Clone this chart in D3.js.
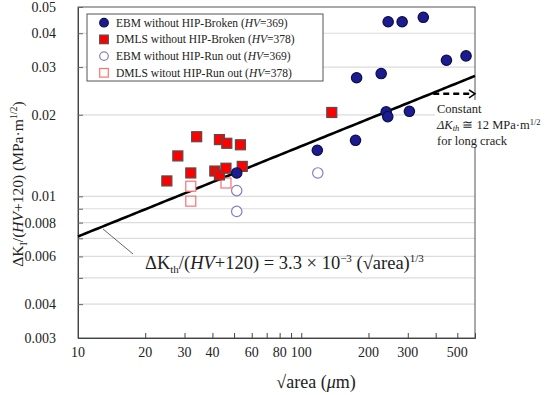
<!DOCTYPE html>
<html>
<head>
<meta charset="utf-8">
<script src="https://cdn.jsdelivr.net/npm/d3@7"></script>
<style>
  body { margin: 0; background: #fff; }
  text { font-family: "Liberation Serif", "Times New Roman", serif; fill: #222; }
</style>
</head>
<body>
<svg id="chart" width="550" height="395"></svg>
<script>
// data: [sqrt(area) um, dK/(HV+120)]
const ebmBroken = [[51.4, 0.0122], [118, 0.0148], [175, 0.0161], [177, 0.0274], [228, 0.0284],
  [240, 0.0205], [244, 0.0197], [245, 0.0441], [283, 0.0441], [352, 0.0458], [305, 0.0206],
  [447, 0.0318], [547, 0.033]];
const dmlsBroken = [[25, 0.0114], [28, 0.0141], [32, 0.0122], [34, 0.0166], [41, 0.0124],
  [43, 0.0120], [43, 0.0162], [46, 0.0127], [46.4, 0.0157], [53.4, 0.0155], [54.4, 0.0129],
  [137, 0.0204]];
const ebmRunout = [[51.4, 0.0105], [51.4, 0.0088], [118.6, 0.0122]];
const dmlsRunout = [[32, 0.0109], [32, 0.0096], [46, 0.0112]];
const xTickLabels = [10, 20, 30, 40, 60, 80, 100, 200, 300, 500];
const xTickMarks = [20, 30, 40, 50, 60, 70, 80, 90, 100, 200, 300, 400, 500];
const yTickLabels = [0.003, 0.004, 0.006, 0.008, 0.01, 0.02, 0.03, 0.04, 0.05];
const yGrid = [0.004, 0.005, 0.006, 0.007, 0.008, 0.009, 0.01, 0.02, 0.03, 0.04];
const fitCoef = 3.3e-3, fitExp = 1 / 3;
const longCrackFrom = 390, longCrackTo = 600;

const svg = d3.select('#chart');
const plot = { left: 78, right: 475, top: 7, bottom: 338 };

const x = d3.scaleLog().domain([10, 600]).range([plot.left, plot.right]);
const y = d3.scaleLog().domain([0.003, 0.05]).range([plot.bottom, plot.top]);

// grid
svg.append('g').selectAll('line').data(yGrid).join('line')
  .attr('x1', plot.left).attr('x2', plot.right)
  .attr('y1', d => y(d)).attr('y2', d => y(d))
  .attr('stroke', '#dcdcdc').attr('stroke-width', 1.2);

// frame
svg.append('rect')
  .attr('x', plot.left).attr('y', plot.top)
  .attr('width', plot.right - plot.left).attr('height', plot.bottom - plot.top)
  .attr('fill', 'none').attr('stroke', '#555').attr('stroke-width', 1);

// y axis: short inner ticks + labels
const yAxis = d3.axisLeft(y).tickValues(yGrid.concat([0.003, 0.05])).tickSize(-5).tickFormat('');
svg.append('g').attr('transform', `translate(${plot.left},0)`).call(yAxis)
  .call(g => g.select('.domain').attr('stroke', '#444'))
  .call(g => g.selectAll('.tick line').attr('stroke', '#666'));
svg.append('g').selectAll('text').data(yTickLabels).join('text')
  .attr('x', 56).attr('y', d => y(d)).attr('dy', '0.35em')
  .attr('text-anchor', 'end').attr('font-size', 14)
  .text(d => d);

// x axis
const xAxis = d3.axisBottom(x).tickValues(xTickMarks).tickSize(-5).tickFormat('');
svg.append('g').attr('transform', `translate(0,${plot.bottom})`).call(xAxis)
  .call(g => g.select('.domain').attr('stroke', '#444'))
  .call(g => g.selectAll('.tick line').attr('stroke', '#444'));
svg.append('g').selectAll('text').data(xTickLabels).join('text')
  .attr('x', d => x(d)).attr('y', 357)
  .attr('text-anchor', 'middle').attr('font-size', 14)
  .text(d => d);

// axis titles
const xt = svg.append('text').attr('x', 316).attr('y', 388)
  .attr('text-anchor', 'middle').attr('font-size', 18);
xt.append('tspan').text('√area  (');
xt.append('tspan').attr('font-style', 'italic').text('μ');
xt.append('tspan').text('m)');

const yt = svg.append('text')
  .attr('transform', 'translate(23,184) rotate(-90)')
  .attr('text-anchor', 'middle').attr('font-size', 15.5);
yt.append('tspan').text('ΔK');
yt.append('tspan').attr('font-size', 10).attr('dy', 4).text('I');
yt.append('tspan').attr('dy', -4).text('/(');
yt.append('tspan').attr('font-style', 'italic').text('HV');
yt.append('tspan').text('+120)  (MPa·m');
yt.append('tspan').attr('font-size', 10).attr('dy', -6).text('1/2');
yt.append('tspan').attr('dy', 6).text(')');

// fit line
const fitX = d3.range(0, 101).map(i => 10 * Math.pow(60, i / 100));
svg.append('path')
  .datum(fitX)
  .attr('d', d3.line().x(d => x(d)).y(d => y(fitCoef * Math.pow(d, fitExp))))
  .attr('fill', 'none').attr('stroke', '#000').attr('stroke-width', 2.6);

// long crack dashed arrow
const lcY = 0.0239;
svg.append('line')
  .attr('x1', x(longCrackFrom)).attr('x2', x(longCrackTo) - 5)
  .attr('y1', y(lcY)).attr('y2', y(lcY))
  .attr('stroke', '#000').attr('stroke-width', 2.5).attr('stroke-dasharray', '6,4');
svg.append('path')
  .attr('d', `M${x(longCrackTo) - 6},${y(lcY) - 4}L${x(longCrackTo)},${y(lcY)}L${x(longCrackTo) - 6},${y(lcY) + 4}`)
  .attr('fill', 'none').attr('stroke', '#000').attr('stroke-width', 1.5);

// constant annotation (covers the frame)
svg.append('rect').attr('x', 435).attr('y', 100).attr('width', 115).attr('height', 47).attr('fill', '#fff');
svg.append('text').attr('x', 437).attr('y', 113).attr('font-size', 12.5).text('Constant');
const ca = svg.append('text').attr('x', 437).attr('y', 129).attr('font-size', 12.5);
ca.append('tspan').attr('font-style', 'italic').text('ΔK');
ca.append('tspan').attr('font-style', 'italic').attr('font-size', 8.5).attr('dy', 2).text('th');
ca.append('tspan').attr('dy', -2).text(' ≅ 12 MPa·m');
ca.append('tspan').attr('font-size', 8.5).attr('dy', -4).text('1/2');
svg.append('text').attr('x', 437).attr('y', 145).attr('font-size', 12.5).text('for long crack');

// equation callout
svg.append('line').attr('x1', 103).attr('y1', 229).attr('x2', 133).attr('y2', 254)
  .attr('stroke', '#666').attr('stroke-width', 1);
const eq = svg.append('text').attr('x', 145).attr('y', 269).attr('font-size', 18.5);
eq.append('tspan').text('ΔK');
eq.append('tspan').attr('font-size', 11).attr('dy', 4).text('th');
eq.append('tspan').attr('dy', -4).text('/(');
eq.append('tspan').attr('font-style', 'italic').text('HV');
eq.append('tspan').text('+120) = 3.3 × 10');
eq.append('tspan').attr('font-size', 11).attr('dy', -7).text('−3');
eq.append('tspan').attr('dy', 7).text(' (√area)');
eq.append('tspan').attr('font-size', 11).attr('dy', -7).text('1/3');

// markers
const sq = 10;
const drawSquares = (data, fill, stroke) =>
  svg.append('g').selectAll('rect').data(data).join('rect')
    .attr('x', d => x(d[0]) - sq / 2).attr('y', d => y(d[1]) - sq / 2)
    .attr('width', sq).attr('height', sq)
    .attr('fill', fill).attr('stroke', stroke).attr('stroke-width', 1.2);
const drawCircles = (data, fill, stroke) =>
  svg.append('g').selectAll('circle').data(data).join('circle')
    .attr('cx', d => x(d[0])).attr('cy', d => y(d[1])).attr('r', 5.2)
    .attr('fill', fill).attr('stroke', stroke).attr('stroke-width', 1.2);

drawSquares(dmlsRunout, '#fff', '#ff7070');
drawCircles(ebmRunout, '#fff', '#8080c8');
drawSquares(dmlsBroken, '#ff0000', '#505050');
drawCircles(ebmBroken, '#1c1c8e', '#0c0c50');

// legend
const legendItems = [
  { label: 'EBM without HIP-Broken', hv: 369, shape: 'circle', fill: '#1c1c8e', stroke: '#0c0c50' },
  { label: 'DMLS without HIP-Broken', hv: 378, shape: 'square', fill: '#ff0000', stroke: '#505050' },
  { label: 'EBM without HIP-Run out', hv: 369, shape: 'circle', fill: '#fff', stroke: '#8080c8' },
  { label: 'DMLS witout HIP-Run out', hv: 378, shape: 'square', fill: '#fff', stroke: '#ff7070' }
];
const lg = svg.append('g');
lg.append('rect').attr('x', 87).attr('y', 14).attr('width', 236).attr('height', 67)
  .attr('fill', '#fff').attr('stroke', '#555').attr('stroke-width', 1);
const entries = lg.selectAll('g.entry').data(legendItems).join('g')
  .attr('class', 'entry')
  .attr('transform', (d, i) => `translate(104,${22.7 + i * 16.7})`);
entries.filter(d => d.shape === 'circle').append('circle')
  .attr('r', 4.3).attr('fill', d => d.fill).attr('stroke', d => d.stroke).attr('stroke-width', 1.2);
entries.filter(d => d.shape === 'square').append('rect')
  .attr('x', -4.3).attr('y', -4.3).attr('width', 8.6).attr('height', 8.6)
  .attr('fill', d => d.fill).attr('stroke', d => d.stroke).attr('stroke-width', 1.2);
const lt = entries.append('text').attr('x', 12).attr('dy', '0.35em').attr('font-size', 11.5);
lt.append('tspan').text(d => d.label + ' (');
lt.append('tspan').attr('font-style', 'italic').text('HV');
lt.append('tspan').text(d => '=' + d.hv + ')');
</script>
</body>
</html>
